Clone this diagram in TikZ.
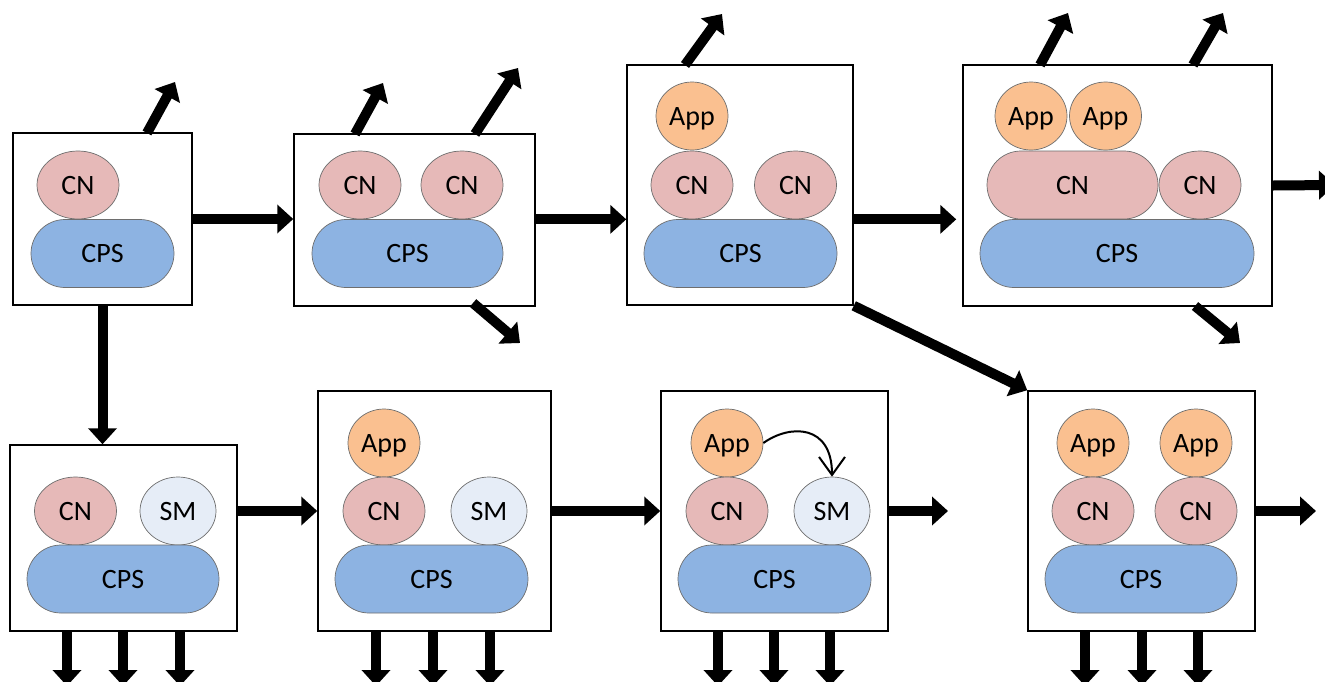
\documentclass[tikz,border=0pt]{standalone}
\usepackage{fontspec}
\setmainfont{Carlito}
\usetikzlibrary{arrows.meta,shapes.geometric}
\definecolor{cnfill}{HTML}{E6B9B8}
\definecolor{cpsfill}{HTML}{8DB3E2}
\definecolor{appfill}{HTML}{FAC090}
\definecolor{smfill}{HTML}{E6EDF7}
\definecolor{edge}{HTML}{6E6E6E}
\begin{document}
\begin{tikzpicture}[x=1pt,y=-1pt,
  stage/.style args={#1/#2}{draw=black,line width=1.5pt,fill=white,
    minimum width=#1pt,minimum height=#2pt,inner sep=0pt},
  lbl/.style={font=\fontsize{28}{32}\selectfont,text height=18pt,text depth=0pt},
  blob/.style={lbl,ellipse,draw=edge,line width=0.7pt,minimum height=68pt,inner sep=0pt},
  cn/.style={blob,fill=cnfill,minimum width=82pt},
  app/.style={blob,fill=appfill,minimum width=72pt},
  sm/.style={blob,fill=smfill,minimum width=76pt},
  pill/.style={lbl,draw=edge,line width=0.7pt,rounded corners=34pt,
    minimum height=68pt,inner sep=0pt,minimum width=#1pt},
  cps/.style={pill=#1,fill=cpsfill},
  cnpill/.style={pill=#1,fill=cnfill},
  flow/.style={line width=10pt,-{Triangle[length=16pt,width=28pt]}},
  call/.style={line width=2pt,-{Straight Barb[length=18pt,width=26pt,line width=2pt]}}
]
\useasboundingbox (0,0) rectangle (1325,681);
\clip (0,0) rectangle (1325,681);

% ---------- top row ----------
\node[stage=179/172] (b1) at (102.5,219) {};
\node[cn]  (b1cn)  at (78,185) {CN};
\node[cps=143] (b1cps) at (102.5,253.5) {CPS};

\node[stage=241/172] (b2) at (414.5,220) {};
\node[cn]  (b2cna) at (360,185) {CN};
\node[cn]  (b2cnb) at (462,185) {CN};
\node[cps=191] (b2cps) at (407.5,253.5) {CPS};

\node[stage=226/240] (b3) at (740,185) {};
\node[app] (b3app) at (692,116) {App};
\node[cn]  (b3cna) at (692,185) {CN};
\node[cn]  (b3cnb) at (795.5,185) {CN};
\node[cps=193] (b3cps) at (740.5,253.5) {CPS};

\node[stage=309/241] (b4) at (1117.5,185.5) {};
\node[app] (b4appa) at (1031,116) {App};
\node[app] (b4appb) at (1105.5,116) {App};
\node[cnpill=171] (b4cna) at (1072.5,185) {CN};
\node[cn]  (b4cnb) at (1200,185) {CN};
\node[cps=274] (b4cps) at (1117,253.5) {CPS};

% ---------- bottom row ----------
\node[stage=227/186] (b5) at (123.5,538) {};
\node[cn]  (b5cn) at (75.5,511) {CN};
\node[sm]  (b5sm) at (178,511) {SM};
\node[cps=192] (b5cps) at (123,579) {CPS};

\node[stage=233/240] (b6) at (434.5,511) {};
\node[app] (b6app) at (384,443) {App};
\node[cn]  (b6cn) at (384,511) {CN};
\node[sm]  (b6sm) at (489,511) {SM};
\node[cps=193] (b6cps) at (431.5,579) {CPS};

\node[stage=227/240] (b7) at (774.5,511) {};
\node[app] (b7app) at (727,443) {App};
\node[cn]  (b7cn) at (727,511) {CN};
\node[sm]  (b7sm) at (832,511) {SM};
\node[cps=193] (b7cps) at (774.5,579) {CPS};

\node[stage=227/240] (b8) at (1141.5,511) {};
\node[app] (b8appa) at (1093,443) {App};
\node[app] (b8appb) at (1196,443) {App};
\node[cn]  (b8cna) at (1093,511) {CN};
\node[cn]  (b8cnb) at (1196,511) {CN};
\node[cps=192] (b8cps) at (1141,579) {CPS};

% call from the application to the service module
\draw[call] (b7app.east) .. controls (790,424) and (832,424) .. (b7sm.north);

% ---------- transitions between stages ----------
\draw[flow] (b1.east) -- (b2.west |- b1.east);
\draw[flow] (b2.east |- b2cna.south) -- (b3.west |- b2cna.south);
\draw[flow] (b3.east |- b3cna.south) -- ([xshift=-6pt]b4.west |- b3cna.south);
\draw[flow] (b3.south east) -- (b8.north west);
\draw[flow] (b1.south) -- (b1.south |- b5.north);
\draw[flow] (b5.east |- b5cn) -- (b6.west |- b5cn);
\draw[flow] (b6.east |- b6cn) -- (b7.west |- b6cn);

% ---------- open outputs ----------
\coordinate (o1s) at (147,133);  \coordinate (o1e) at (175,82);
\coordinate (o2s) at (355,134);  \coordinate (o2e) at (383,83);
\coordinate (o3s) at (475,134);  \coordinate (o3e) at (518,68);
\coordinate (o4s) at (473,303);  \coordinate (o4e) at (520,343);
\coordinate (o5s) at (685,65);   \coordinate (o5e) at (722,14);
\coordinate (o6s) at (1040,65);  \coordinate (o6e) at (1068,13);
\coordinate (o7s) at (1193,65);  \coordinate (o7e) at (1223,13);
\coordinate (o8s) at (1195,306); \coordinate (o8e) at (1240,343);
\foreach \i in {1,...,8} \draw[flow] (o\i s) -- (o\i e);

\coordinate (r4) at (1335,185);
\draw[flow] (b4.east) -- (r4);
\coordinate (r7) at (948,511);
\draw[flow] (b7.east) -- (r7);
\coordinate (r8) at (1316,511);
\draw[flow] (b8.east) -- (r8);

\foreach \b/\xa/\xb/\xc in {b5/67/123/180, b6/376/433/490, b7/718/774/830, b8/1085/1142/1198} {
  \foreach \x in {\xa,\xb,\xc} {
    \coordinate (d) at (\x,686);
    \draw[flow] (d |- \b.south) -- (d);
  }
}
\end{tikzpicture}
\end{document}
